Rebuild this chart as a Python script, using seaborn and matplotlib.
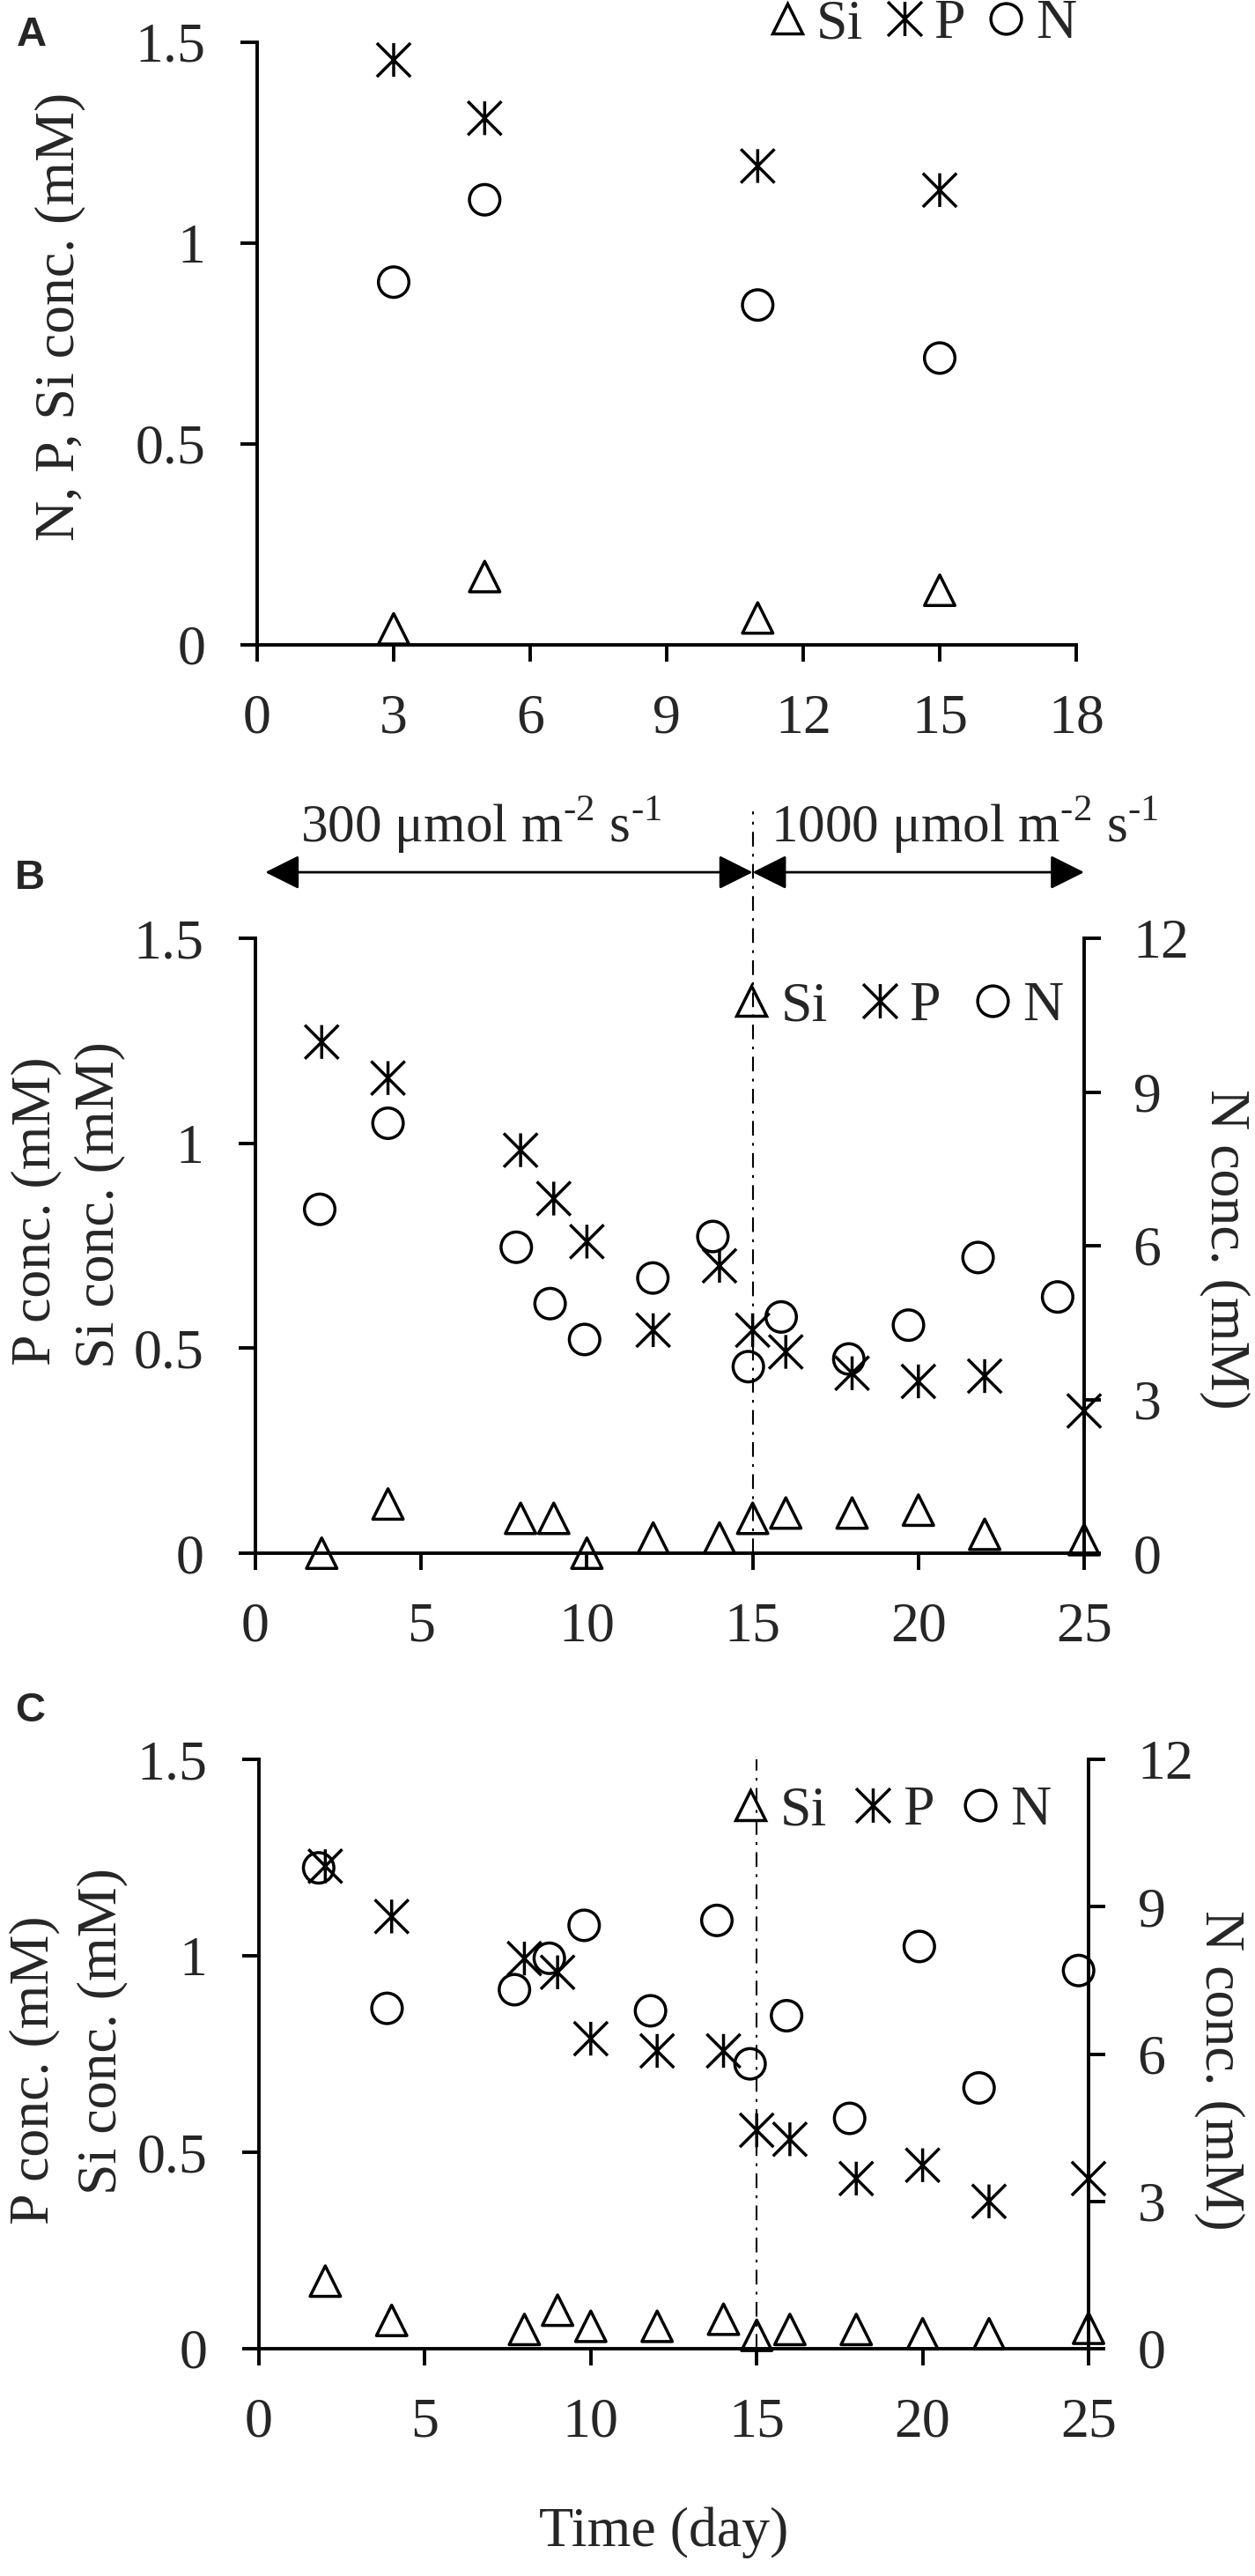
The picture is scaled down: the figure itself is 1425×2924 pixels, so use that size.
import numpy as np
import pandas as pd
import seaborn as sns
import matplotlib.pyplot as plt
from matplotlib.path import Path
from matplotlib.lines import Line2D
from matplotlib.ticker import FuncFormatter

# ---- donnees ----
# panneau A
a_day = [3, 5, 11, 15]
a_si = [0.04, 0.17, 0.067, 0.136]
a_p = [1.456, 1.311, 1.192, 1.132]
a_n = [0.903, 1.108, 0.846, 0.714]

# panneau B (300 puis 1000 umol m-2 s-1)
b_day = [2, 4, 8, 9, 10, 12, 14, 15, 16, 18, 20, 22, 25]
b_si = [0.0, 0.12, 0.085, 0.085, 0.0, 0.037, 0.037, 0.085, 0.098, 0.098, 0.105, 0.046, 0.033]
b_p = [1.247, 1.159, 0.983, 0.865, 0.760, 0.544, 0.701, 0.544, 0.491, 0.439, 0.419, 0.432, 0.347]
b_n_day = [1.94, 4.0, 7.87, 8.89, 9.93, 11.99, 13.8, 14.87, 15.86, 17.9, 19.7, 21.8, 24.2]
b_n = [6.71, 8.39, 5.97, 4.87, 4.17, 5.37, 6.18, 3.64, 4.61, 3.79, 4.45, 5.77, 5.0]

# panneau C
c_day = [2, 4, 8, 9, 10, 12, 14, 15, 16, 18, 20, 22, 25]
c_si = [0.172, 0.072, 0.049, 0.098, 0.057, 0.057, 0.075, 0.034, 0.049, 0.049, 0.038, 0.038, 0.052]
c_p = [1.228, 1.10, 0.993, 0.958, 0.789, 0.758, 0.758, 0.556, 0.533, 0.433, 0.467, 0.375, 0.433]
c_n_day = [1.8, 3.86, 7.7, 8.75, 9.8, 11.8, 13.8, 14.8, 15.9, 17.8, 19.9, 21.7, 24.7]
c_n = [9.79, 6.93, 7.31, 7.95, 8.62, 6.88, 8.72, 5.80, 6.78, 4.69, 8.19, 5.31, 7.70]

switch_day = 15
light_low = "300 μmol m$^{\\text{-2}}$ s$^{\\text{-1}}$"
light_high = "1000 μmol m$^{\\text{-2}}$ s$^{\\text{-1}}$"

# ---- style ----
sns.set_style("ticks")
plt.rcParams['font.family'] = ['Liberation Serif', 'DejaVu Serif']
plt.rcParams['mathtext.fontset'] = 'custom'
plt.rcParams['mathtext.rm'] = 'Liberation Serif'

FS = 46
LW = 2.8
star = Path([(0, -1), (0, 1), (-1, -1), (1, 1), (-1, 1), (1, -1)],
            [Path.MOVETO, Path.LINETO] * 3)
mk = {"Si": ("^", 620), "P": (star, 760), "N": ("o", 620)}

W, H = 1425, 2924
fig = plt.figure(figsize=(W / 100, H / 100), dpi=100)


def box(l, t, r, b):
    return [l / W, 1 - b / H, (r - l) / W, (b - t) / H]


def pts(ax, x, y, key):
    m, s = mk[key]
    sns.scatterplot(x=x, y=y, ax=ax, marker=m, s=s, facecolor='none',
                    edgecolor='black', linewidth=2.5, clip_on=False, zorder=5)


def style(ax, xmax, xstep):
    sns.despine(ax=ax)
    ax.set_xlim(0, xmax)
    ax.set_xticks(np.arange(0, xmax + 1, xstep))
    ax.set_ylim(0, 1.5)
    ax.set_yticks([0, 0.5, 1, 1.5])
    ax.yaxis.set_major_formatter(FuncFormatter(lambda v, p: f"{v:g}"))
    ax.tick_params(direction='out', length=14, width=LW, labelsize=FS, color='black')
    ax.tick_params(axis='x', pad=26)
    ax.tick_params(axis='y', pad=28)
    for s in ['left', 'bottom']:
        ax.spines[s].set_linewidth(LW)
        ax.spines[s].set_color('black')
    ax.set_xlabel('')
    ax.set_ylabel('')


def right_axis(ax):
    ax2 = ax.twinx()
    for s in ['top', 'left', 'bottom']:
        ax2.spines[s].set_visible(False)
    ax2.spines['right'].set_linewidth(LW)
    ax2.spines['right'].set_color('black')
    ax2.set_ylim(0, 12)
    ax2.set_yticks([0, 3, 6, 9, 12])
    ax2.tick_params(axis='y', direction='out', length=14, width=LW, labelsize=FS,
                    pad=26, color='black')
    return ax2


def legend(x_px, y_px, gap):
    handles = [Line2D([], [], ls='', marker=mk[k][0], ms=25 if k != "P" else 28,
                      mfc='none', mec='black', mew=2.5) for k in ["Si", "P", "N"]]
    fig.legend(handles, ["Si", "P", "N"], loc='center right', ncol=3,
               bbox_to_anchor=(x_px / W, 1 - y_px / H), bbox_transform=fig.transFigure,
               frameon=False, fontsize=FS, handlelength=0.55, handletextpad=0.25,
               columnspacing=gap, borderpad=0, borderaxespad=0)


def panel_letter(txt, x_px, y_px):
    fig.text(x_px / W, 1 - y_px / H, txt, fontfamily='Liberation Sans',
             fontweight='bold', fontsize=34, ha='center', va='center')


# ---- A ----
ax_a = fig.add_axes(box(292, 48, 1222, 732))
style(ax_a, 18, 3)
pts(ax_a, a_day, a_si, "Si")
pts(ax_a, a_day, a_p, "P")
pts(ax_a, a_day, a_n, "N")
ax_a.set_ylabel("N, P, Si conc. (mM)", fontsize=FS)
ax_a.yaxis.set_label_coords(-0.209, 0.544)
legend(1222, 28, 0.45)
panel_letter("A", 36, 40)

# ---- B ----
ax_b = fig.add_axes(box(290, 1065, 1231, 1763))
style(ax_b, 25, 5)
pts(ax_b, b_day, b_si, "Si")
pts(ax_b, b_day, b_p, "P")
ax_b2 = right_axis(ax_b)
pts(ax_b2, b_n_day, b_n, "N")
ax_b2.set_ylabel('')
ax_b.axvline(switch_day, ymin=0, ymax=1.206, clip_on=False, color='black',
             lw=1.5, ls=(0, (8, 4, 1.5, 4)), zorder=1)
arrow_y = 1.661
arr = dict(arrowstyle='<|-|>,head_length=0.4,head_width=0.2', color='black', lw=2,
           shrinkA=0, shrinkB=0, mutation_scale=60)
ax_b.annotate('', xy=(0.3, arrow_y), xytext=(switch_day, arrow_y), arrowprops=arr,
              annotation_clip=False)
ax_b.annotate('', xy=(switch_day, arrow_y), xytext=(25, arrow_y), arrowprops=arr,
              annotation_clip=False)
ax_b.text(6.8, 1.775, light_low, fontsize=44, ha='center', va='center', clip_on=False)
ax_b.text(21.4, 1.775, light_high, fontsize=44, ha='center', va='center', clip_on=False)
ax_b.text(-0.2646, 0.556, "P conc. (mM)", transform=ax_b.transAxes, rotation=90,
          fontsize=FS, ha='center', va='center')
ax_b.text(-0.188, 0.567, "Si conc. (mM)", transform=ax_b.transAxes, rotation=90,
          fontsize=FS, ha='center', va='center')
ax_b.text(1.17, 0.494, "N conc. (mM)", transform=ax_b.transAxes, rotation=270,
          fontsize=FS, ha='center', va='center')
legend(1207, 1143, 0.65)
panel_letter("B", 34, 997)

# ---- C ----
ax_c = fig.add_axes(box(294, 1997, 1236, 2666))
style(ax_c, 25, 5)
pts(ax_c, c_day, c_si, "Si")
pts(ax_c, c_day, c_p, "P")
ax_c2 = right_axis(ax_c)
pts(ax_c2, c_n_day, c_n, "N")
ax_c2.set_ylabel('')
ax_c.axvline(switch_day, ymin=0, ymax=1, color='black', lw=1.5,
             ls=(0, (8, 4, 1.5, 4)), zorder=1)
ax_c.text(-0.270, 0.472, "P conc. (mM)", transform=ax_c.transAxes, rotation=90,
          fontsize=FS, ha='center', va='center')
ax_c.text(-0.188, 0.538, "Si conc. (mM)", transform=ax_c.transAxes, rotation=90,
          fontsize=FS, ha='center', va='center')
ax_c.text(1.158, 0.472, "N conc. (mM)", transform=ax_c.transAxes, rotation=270,
          fontsize=FS, ha='center', va='center')
ax_c.text(0.488, -0.312, "Time (day)", transform=ax_c.transAxes,
          fontsize=FS, ha='center', va='center')
legend(1193, 2056, 0.55)
panel_letter("C", 34, 1942)

fig.savefig("out.png", dpi=100)
